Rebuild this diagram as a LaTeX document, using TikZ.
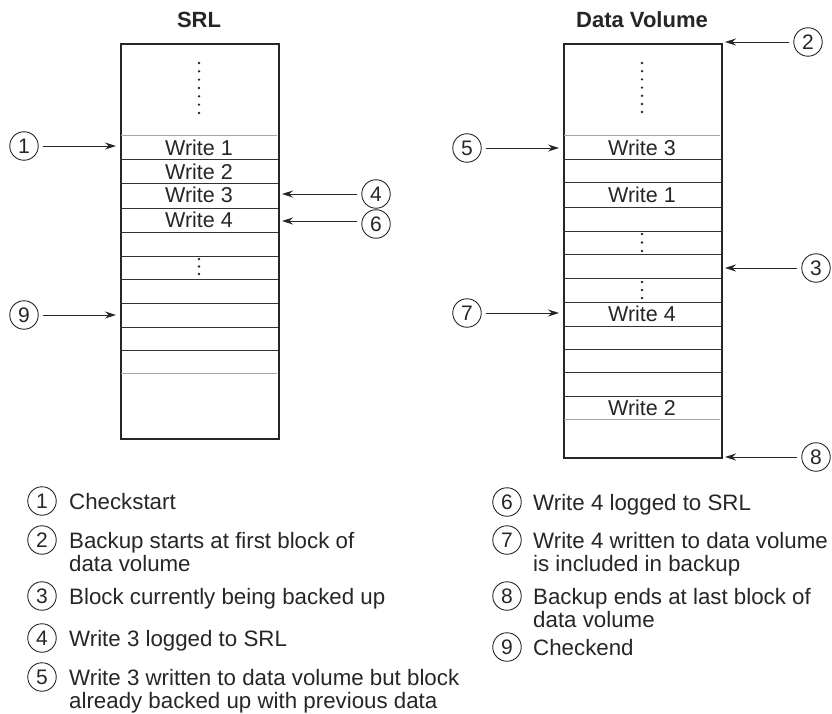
\documentclass[tikz,border=0pt]{standalone}
\usepackage{fontspec}
\setmainfont{Liberation Sans}
\usetikzlibrary{arrows.meta}
\begin{document}
\begin{tikzpicture}[x=1pt,y=-1pt,
  txt/.style={text=black!85,inner sep=0pt,font=\fontsize{21.5}{22}\selectfont},
  ttl/.style={txt,font=\fontsize{22}{22}\selectfont\bfseries},
  num/.style={circle,draw=black!85,line width=0.9pt,minimum size=28.5pt,inner sep=0pt,text=black!85,font=\fontsize{21}{21}\selectfont},
  blk/.style={draw=black!85,line width=1.6pt,inner sep=0pt,anchor=north west},
  rowline/.style={draw=black!80,line width=1pt},
  greyrowline/.style={draw=black!35,line width=1pt},
  arr/.style={draw=black!85,line width=0.9pt,-{Stealth[length=11pt,width=7pt]},shorten <=4pt,shorten >=4pt},
  dotmark/.style={circle,fill=black!85,inner sep=0pt,minimum size=2.6pt},
  leg/.style={text=black!85,inner sep=0pt,anchor=north west,align=left,font=\fontsize{22.3}{21}\selectfont}
]
\useasboundingbox (0,0) rectangle (832,714);

% ---------- titles ----------
\node[ttl] (tsrl) at (199,20) {SRL};
\node[ttl] (tdv) at (642,20) {Data Volume};

% ---------- SRL box ----------
\node[blk,minimum width=158pt,minimum height=395pt] (srl) at (120,43) {};
\foreach \yy in {160,184,208,232,256,279,303,327,350}
  \draw[rowline] (120,\yy) -- (278,\yy);
\foreach \yy in {136,373}
  \draw[greyrowline] (121,\yy) -- (277,\yy);
\node[txt] (s1) at (199,148) {Write 1};
\node[txt] (s2) at (199,172) {Write 2};
\node[txt] (s3) at (199,195) {Write 3};
\node[txt] (s4) at (199,220) {Write 4};
\foreach \yy in {63,71.3,79.6,88,96.3,104.6,113}
  \node[dotmark] at (199,\yy) {};
\foreach \yy in {259,266.5,274}
  \node[dotmark] at (199,\yy) {};

% ---------- Data volume box ----------
\node[blk,minimum width=158pt,minimum height=414pt] (dv) at (563,43) {};
\foreach \yy in {160,183,207,231,254,278,302,326,349,372,396}
  \draw[rowline] (563,\yy) -- (721,\yy);
\foreach \yy in {136,419}
  \draw[greyrowline] (564,\yy) -- (720,\yy);
\node[txt] (d3) at (642,148) {Write 3};
\node[txt] (d1) at (642,195) {Write 1};
\node[txt] (d4) at (642,314) {Write 4};
\node[txt] (d2) at (642,408) {Write 2};
\foreach \yy in {63,71.2,79.4,87.6,95.8,104,112}
  \node[dotmark] at (642,\yy) {};
\foreach \yy in {234,242.5,251}
  \node[dotmark] at (642,\yy) {};
\foreach \yy in {282,290,298}
  \node[dotmark] at (642,\yy) {};

% ---------- callouts ----------
\node[num] (c1) at (24,146) {1};
\node[num] (c9) at (24,315) {9};
\node[num] (c4) at (376,194) {4};
\node[num] (c6) at (376,224) {6};
\node[num] (c2) at (808,42) {2};
\node[num] (c5) at (467,148) {5};
\node[num] (c3) at (816,268) {3};
\node[num] (c7) at (467,313) {7};
\node[num] (c8) at (816,457) {8};

\coordinate (a1) at (120,146);
\coordinate (a9) at (120,315);
\coordinate (a4) at (278,194);
\coordinate (a6) at (278,221);
\coordinate (a2) at (721,42);
\coordinate (a5) at (563,148);
\coordinate (a3) at (721,268);
\coordinate (a7) at (563,313);
\coordinate (a8) at (721,457);

\draw[arr] (c1) -- (a1);
\draw[arr] (c9) -- (a9);
\draw[arr] (c4) -- (a4);
\draw[arr] (c6.west |- a6) -- (a6);
\draw[arr] (c2) -- (a2);
\draw[arr] (c5) -- (a5);
\draw[arr] (c3) -- (a3);
\draw[arr] (c7) -- (a7);
\draw[arr] (c8) -- (a8);

% ---------- legend ----------
\node[num] (l1) at (42,501) {1};
\node[num] (l2) at (42,540) {2};
\node[num] (l3) at (42,596) {3};
\node[num] (l4) at (42,638) {4};
\node[num] (l5) at (42,677) {5};
\node[leg] (t1) at (69,493) {\strut Checkstart};
\node[leg] (t2) at (69,532) {\strut Backup starts at first block of\\data volume};
\node[leg] (t3) at (69,588) {\strut Block currently being backed up};
\node[leg] (t4) at (69,630) {\strut Write 3 logged to SRL};
\node[leg,font=\fontsize{22.3}{19}\selectfont] (t5) at (69,669) {\strut Write 3 written to data volume but block\\already backed up with previous data};

\node[num] (l6) at (507,502) {6};
\node[num] (l7) at (507,540) {7};
\node[num] (l8) at (507,596) {8};
\node[num] (l9) at (507,647) {9};
\node[leg] (t6) at (533,494) {\strut Write 4 logged to SRL};
\node[leg] (t7) at (533,532) {\strut Write 4 written to data volume\\is included in backup};
\node[leg] (t8) at (533,588) {\strut Backup ends at last block of\\data volume};
\node[leg] (t9) at (533,639) {\strut Checkend};
\end{tikzpicture}
\end{document}
